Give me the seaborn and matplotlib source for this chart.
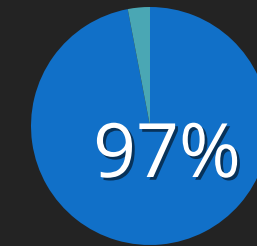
import matplotlib
matplotlib.use("Agg")
import matplotlib.pyplot as plt
import matplotlib.patheffects as pe
import seaborn as sns

labels = ["Yes", "No"]
values = [97, 3]
colors = ["#1170c8", "#4aa7b4"]
label_text = "97%"

sns.set_theme(style="white")
plt.rcParams['font.family'] = ['Open Sans', 'DejaVu Sans']

fig = plt.figure(figsize=(2.57, 2.46), dpi=100, facecolor="#232323")
ax = fig.add_axes([0, 0, 1, 1])
ax.set_facecolor("#232323")
ax.pie(values, colors=colors, startangle=90, counterclock=False,
       radius=119, center=(150, 120), frame=True,
       wedgeprops=dict(linewidth=0))
ax.set_xlim(0, 257)
ax.set_ylim(0, 246)
ax.set_aspect('equal')
ax.axis('off')
ax.text(167, 69, label_text, color="white", fontsize=54, ha="center", va="baseline",
        path_effects=[pe.withSimplePatchShadow(offset=(2, -2), shadow_rgbFace="black", alpha=0.55)])
fig.savefig("out.png", dpi=100, facecolor=fig.get_facecolor())
